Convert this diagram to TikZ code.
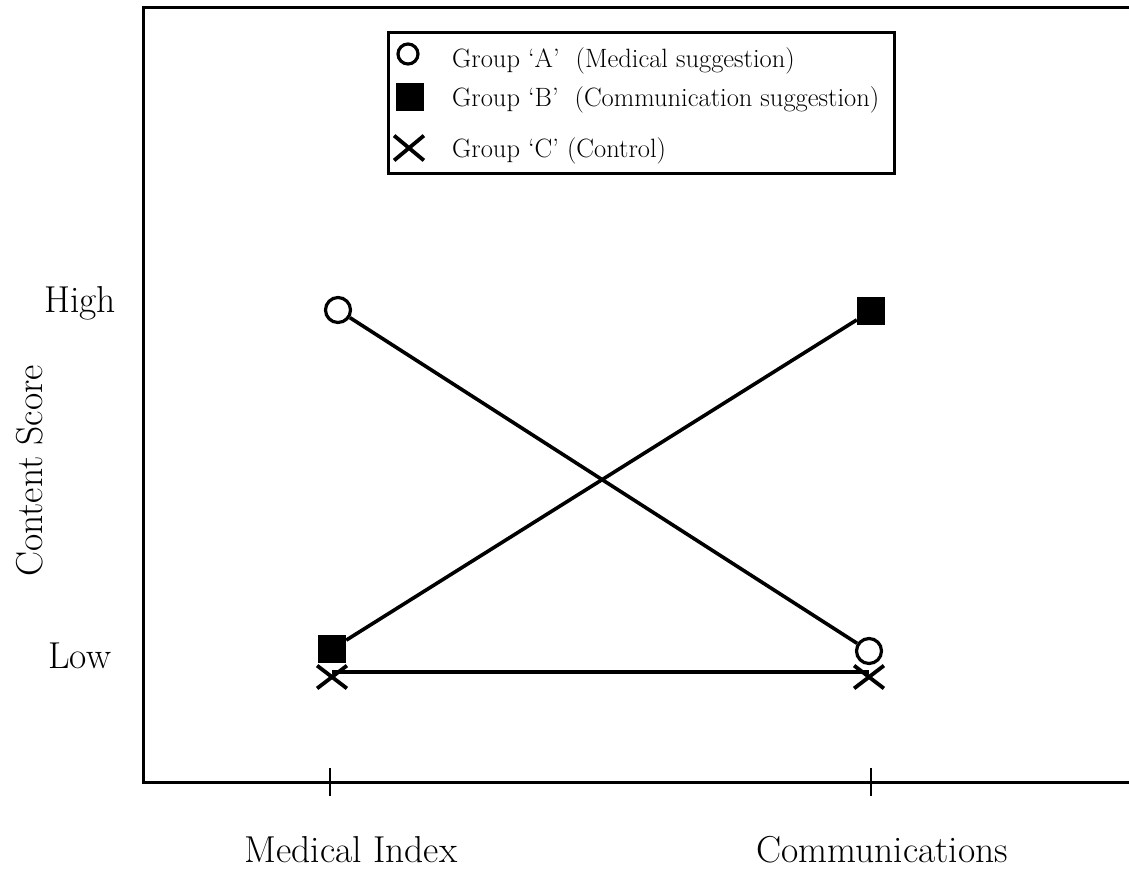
\documentclass[tikz,border=0pt]{standalone}
\usetikzlibrary{shapes.misc}
\tikzset{
  frameline/.style={line width=3pt},
  tickline/.style={line width=2.6pt},
  conn/.style={line width=3.6pt},
  mcirc/.style={circle, draw, line width=3.2pt, minimum size=25pt, inner sep=0pt, fill=white},
  msq/.style={rectangle, fill=black, minimum size=28pt, inner sep=0pt},
  mcross/.style={cross out, draw, line width=3.8pt, minimum width=26pt, minimum height=19pt, inner sep=0pt},
  axlabel/.style={font=\fontsize{37.5}{44}\selectfont, inner sep=0pt},
  leglabel/.style={font=\fontsize{26.5}{31}\selectfont, inner sep=0pt, anchor=base west},
  legbox/.style={draw, line width=2.8pt, minimum width=506pt, minimum height=141pt, inner sep=0pt, anchor=north west},
}
\begin{document}
\begin{tikzpicture}[x=1pt,y=-1pt]
\useasboundingbox (0,0) rectangle (1129,871);
% frame (open on the right)
\draw[frameline] (1129,7) -- (143,7) -- (143,782) -- (1129,782);
% ticks
\coordinate (t1a) at (330,768); \coordinate (t1b) at (330,796);
\coordinate (t2a) at (871,768); \coordinate (t2b) at (871,796);
\draw[tickline] (t1a) -- (t1b);
\draw[tickline] (t2a) -- (t2b);
% axis labels
\node[axlabel, anchor=base west] (high) at (44,312) {High};
\node[axlabel, anchor=base west] (low) at (48,668) {Low};
\node[axlabel, rotate=90, anchor=base] (ylab) at (42,471) {Content Score};
\node[axlabel, anchor=base] (xl1) at (351,862) {Medical Index};
\node[axlabel, anchor=base] (xl2) at (882,862) {Communications};
% legend
\node[legbox] (legend) at (387,31) {};
\node[mcirc, minimum size=20pt] (la) at (408,54) {};
\node[msq] (lb) at (410,97) {};
\node[mcross, minimum height=21pt] (lc) at (409,148) {};
\node[leglabel] (lta) at (452,67) {Group ‘A’~~(Medical suggestion)};
\node[leglabel] (ltb) at (452,106) {Group ‘B’~~(Communication suggestion)};
\node[leglabel] (ltc) at (452,157) {Group ‘C’ (Control)};
% data markers
\node[mcirc] (a1) at (338,310) {};
\node[mcirc] (a2) at (869,651) {};
\node[msq] (b1) at (332,649) {};
\node[msq] (b2) at (871,311) {};
\node[mcross] (c1) at (332,677) {};
\node[mcross] (c2) at (869,677) {};
% connectors
\draw[conn] (a1) -- (a2);
\draw[conn] (b1) -- (b2);
\draw[conn] ([yshift=5pt]c1.center) -- ([yshift=5pt]c2.center);
\end{tikzpicture}
\end{document}
